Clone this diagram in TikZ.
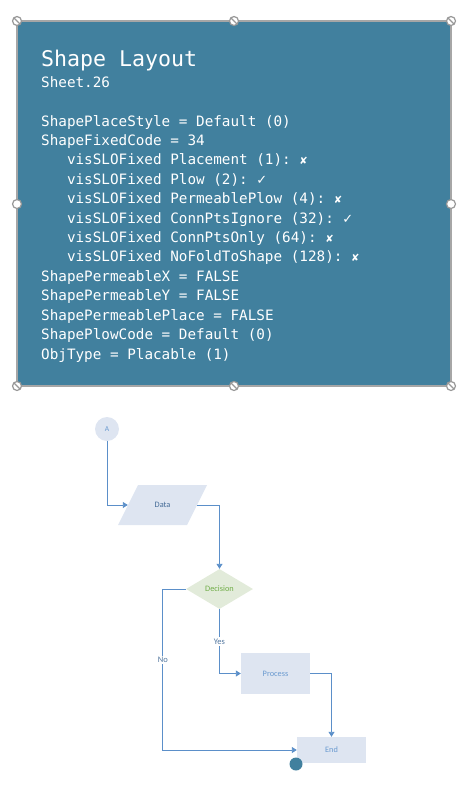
\documentclass[tikz,border=0pt]{standalone}
\usepackage{fontspec}
\setmainfont{Carlito}
\setmonofont{DejaVu Sans Mono}
\newfontfamily\symfont{DejaVu Sans}
\usepackage{tikz}
\usetikzlibrary{shapes.geometric,arrows.meta}
\definecolor{panelblue}{RGB}{65,128,158}
\definecolor{flowline}{RGB}{91,143,201}
\definecolor{flowfill}{RGB}{222,229,241}
\definecolor{decfill}{RGB}{226,235,218}
\definecolor{decgreen}{RGB}{112,173,71}
\definecolor{flowtext}{RGB}{106,154,208}
\definecolor{labeltext}{RGB}{84,120,160}
\tikzstyle{every node}=[inner sep=0pt]
\tikzset{handle/.style={circle, draw=black!40, fill=white, line width=1.2pt, minimum size=9pt},
  nohandle/.style={handle, path picture={\draw[black!40, line width=1.2pt]
      (path picture bounding box.north west) -- (path picture bounding box.south east);}},
  info/.style={anchor=base west, text=white, font=\ttfamily\fontsize{14.3}{17}\selectfont},
  flow/.style={draw=flowline, line width=0.9pt, -{Triangle[length=5pt,width=6pt]}},
  box/.style={fill=flowfill, text=flowtext, font=\fontsize{8.3}{9}\selectfont},
  lab/.style={fill=white, inner sep=1.5pt, text=labeltext, font=\fontsize{8.5}{9}\selectfont}}
\newcommand{\yesmark}{{\symfont\fontsize{13}{13}\selectfont ✓}}
\newcommand{\nomark}{{\symfont\fontsize{10}{10}\selectfont ✘}}

\begin{document}
\begin{tikzpicture}[x=1pt, y=-1pt]
    \useasboundingbox (0,0) rectangle (470,790);
    % shape layout panel
    \draw[fill=panelblue, draw=black!35, line width=1.2pt] (17,21) rectangle (451,386);
    \node[info, font=\ttfamily\fontsize{21.6}{24}\selectfont] (title) at (41,66) {Shape Layout};
    \node[info] (sheet) at (41,87) {Sheet.26};
    \node[info] (l1) at (41,126) {ShapePlaceStyle = Default (0)};
    \node[info] (l2) at (41,145.4) {ShapeFixedCode = 34};
    \node[info] (l3) at (66.8,164.8) {visSLOFixed Placement (1): \nomark};
    \node[info] (l4) at (66.8,184.3) {visSLOFixed Plow (2): \yesmark};
    \node[info] (l5) at (66.8,203.7) {visSLOFixed PermeablePlow (4): \nomark};
    \node[info] (l6) at (66.8,223.1) {visSLOFixed ConnPtsIgnore (32): \yesmark};
    \node[info] (l7) at (66.8,242.5) {visSLOFixed ConnPtsOnly (64): \nomark};
    \node[info] (l8) at (66.8,261.9) {visSLOFixed NoFoldToShape (128): \nomark};
    \node[info] (l9) at (41,281.4) {ShapePermeableX = FALSE};
    \node[info] (l10) at (41,300.8) {ShapePermeableY = FALSE};
    \node[info] (l11) at (41,320.2) {ShapePermeablePlace = FALSE};
    \node[info] (l12) at (41,339.6) {ShapePlowCode = Default (0)};
    \node[info] (l13) at (41,359) {ObjType = Placable (1)};
    \foreach \x/\y [count=\i] in {17/21,234/21,451/21,17/386,234/386,451/386}
      \node[nohandle] (h\i) at (\x,\y) {};
    \node[handle] (hl) at (17,204) {};
    \node[handle] (hr) at (451,204) {};
    % flowchart
    \fill[flowfill] (118,525) -- (138,485) -- (207,485) -- (187,525) -- cycle;
    \node[circle, box, minimum size=24pt, font=\fontsize{7.5}{8}\selectfont] (a) at (107,429) {A};
    \node[minimum width=69pt, minimum height=40pt, text=flowline!75!black,
      font=\fontsize{8.3}{9}\selectfont] (data) at (162.5,505) {Data};
    \node[diamond, fill=decfill, aspect=1.675, minimum width=67pt, minimum height=40pt,
      text=decgreen, font=\fontsize{8.3}{9}\selectfont] (dec) at (219.5,589) {Decision};
    \node[box, minimum width=69pt, minimum height=41pt] (proc) at (275.5,673.5) {Process};
    \node[box, minimum width=69pt, minimum height=26pt] (end) at (331.5,750) {End};
    \draw[flow] (a.south) |- (data.west);
    \draw[flow] (data.east) -| (dec.north);
    \draw[flow] (dec.south) |- node[lab, pos=0.25] {Yes} (proc.west);
    \draw[flow] (proc.east) -| (end.north);
    \draw[flow] (dec.west) -- ++(-23,0) |- node[lab, pos=0.22] {No} (end.west);
    \node[circle, fill=panelblue, minimum size=13pt] (dot) at (296,764) {};
\end{tikzpicture}
\end{document}
